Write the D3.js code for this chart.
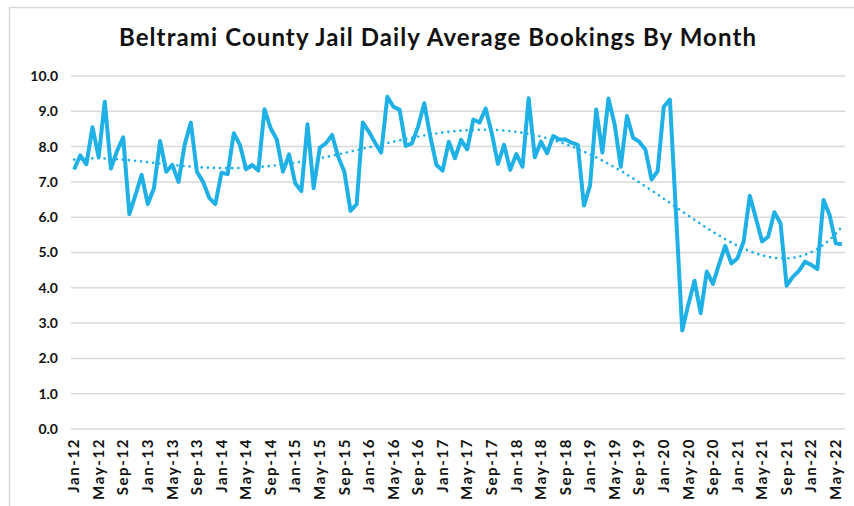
<!DOCTYPE html>
<html>
<head>
<meta charset="utf-8">
<script src="https://cdn.jsdelivr.net/npm/d3@7"></script>
<style>
  body { margin: 0; background: #fff; }
  text { font-family: Lato, "Open Sans", sans-serif; }
</style>
</head>
<body>
<div id="chart"></div>
<script>
// monthly daily-average bookings, Jan 2012 - Jun 2022
let startMonth = new Date(2012, 0, 1);
let bookings = [
    7.35, 7.75, 7.5, 8.55, 7.7, 9.27, 7.38, 7.88, 8.26, 6.09, 6.63, 7.2,
    6.37, 6.82, 8.16, 7.29, 7.48, 7.0, 8.05, 8.68, 7.29, 7.0, 6.55, 6.37,
    7.26, 7.22, 8.38, 8.05, 7.36, 7.48, 7.32, 9.06, 8.52, 8.2, 7.29, 7.78,
    6.96, 6.74, 8.63, 6.82, 7.97, 8.09, 8.33, 7.71, 7.29, 6.18, 6.37, 8.68,
    8.42, 8.11, 7.83, 9.41, 9.13, 9.04, 8.02, 8.09, 8.56, 9.23, 8.28, 7.48,
    7.32, 8.14, 7.67, 8.19, 7.92, 8.77, 8.68, 9.08, 8.38, 7.51, 8.05, 7.34,
    7.79, 7.43, 9.37, 7.7, 8.14, 7.81, 8.3, 8.2, 8.2, 8.11, 8.05, 6.33,
    6.9, 9.05, 7.83, 9.36, 8.63, 7.43, 8.87, 8.25, 8.14, 7.92, 7.07, 7.3,
    9.13, 9.33, 6.06, 2.79, 3.53, 4.2, 3.28, 4.46, 4.11, 4.67, 5.19, 4.69,
    4.84, 5.31, 6.61, 5.97, 5.31, 5.45, 6.14, 5.83, 4.06, 4.31, 4.48, 4.74,
    4.65, 4.53, 6.49, 6.06, 5.26, 5.23
];
let yTicks = [0, 1, 2, 3, 4, 5, 6, 7, 8, 9, 10];
let labelEvery = 4;
let trendOrder = 5;

let months = bookings.map((v, i) => d3.timeMonth.offset(startMonth, i));
let fmtMonth = d3.timeFormat("%b-%y");

let width = 854, height = 506;
let margin = {top: 76, right: 9, bottom: 77, left: 71};

let svg = d3.select("#chart")
    .append("svg")
    .attr("width", width)
    .attr("height", height);

svg.append("rect")
    .attr("x", 9.5).attr("y", 7.5)
    .attr("width", 860).attr("height", 520)
    .attr("fill", "#fff")
    .attr("stroke", "#d9d9d9")
    .attr("stroke-width", 1.5);

svg.append("text")
    .attr("x", 438)
    .attr("y", 46)
    .attr("text-anchor", "middle")
    .attr("font-size", 24)
    .attr("letter-spacing", 1.1)
    .attr("font-weight", "bold")
    .attr("fill", "#111")
    .text("Beltrami County Jail Daily Average Bookings By Month");

let x = d3.scaleBand()
    .domain(d3.range(bookings.length))
    .range([margin.left, width - margin.right]);

let y = d3.scaleLinear()
    .domain([0, 10])
    .range([height - margin.bottom, margin.top]);

let px = i => x(i) + x.bandwidth() / 2;

// gridlines
svg.append("g")
    .selectAll("line")
    .data(yTicks)
    .enter().append("line")
    .attr("x1", margin.left)
    .attr("x2", width - margin.right)
    .attr("y1", d => y(d))
    .attr("y2", d => y(d))
    .attr("stroke", "#d9d9d9")
    .attr("stroke-width", 1.5);

// y axis
let yAxis = d3.axisLeft(y)
    .tickValues(yTicks)
    .tickFormat(d3.format(".1f"))
    .tickSize(0)
    .tickPadding(13);

let yAxisGroup = svg.append("g")
    .attr("transform", "translate(" + margin.left + ",0)")
    .call(yAxis);
yAxisGroup.select(".domain").remove();
yAxisGroup.selectAll("text")
    .attr("font-size", 14)
    .attr("font-weight", "bold")
    .attr("fill", "#111")
    .attr("font-family", "Lato, sans-serif");

// x axis, a label every 4 months
let xAxis = d3.axisBottom(x)
    .tickValues(d3.range(0, bookings.length, labelEvery))
    .tickFormat(i => fmtMonth(months[i]))
    .tickSize(0);

let xAxisGroup = svg.append("g")
    .attr("transform", "translate(0," + (height - margin.bottom) + ")")
    .call(xAxis);
xAxisGroup.select(".domain").remove();
xAxisGroup.selectAll("text")
    .attr("font-size", 15)
    .attr("letter-spacing", 1.6)
    .attr("font-weight", "bold")
    .attr("fill", "#111")
    .attr("font-family", "Lato, sans-serif")
    .attr("text-anchor", "end")
    .attr("dy", "0.35em")
    .attr("transform", "translate(0,9) rotate(-90)")
    .attr("x", 0)
    .attr("y", 0);

// polynomial trendline (least squares fit of the series)
function polyFit(vals, order) {
    let n = vals.length;
    let xs = vals.map((v, i) => (2 * i / (n - 1)) - 1);
    let m = order + 1;
    let A = [];
    for (let r = 0; r < m; r++) {
        A.push([]);
        for (let c = 0; c < m; c++) A[r].push(d3.sum(xs, t => Math.pow(t, r + c)));
        A[r].push(d3.sum(xs, (t, i) => Math.pow(t, r) * vals[i]));
    }
    for (let c = 0; c < m; c++) {
        let p = c;
        for (let r = c + 1; r < m; r++) if (Math.abs(A[r][c]) > Math.abs(A[p][c])) p = r;
        [A[c], A[p]] = [A[p], A[c]];
        for (let r = 0; r < m; r++) {
            if (r === c) continue;
            let f = A[r][c] / A[c][c];
            for (let k = c; k <= m; k++) A[r][k] -= f * A[c][k];
        }
    }
    let coef = A.map((row, r) => row[m] / row[r]);
    return xs.map(t => d3.sum(coef, (a, k) => a * Math.pow(t, k)));
}

let trend = polyFit(bookings, trendOrder);

let line = d3.line()
    .x((d, i) => px(i))
    .y(d => y(d));

svg.append("path")
    .datum(trend)
    .attr("fill", "none")
    .attr("stroke", "#1fb0e6")
    .attr("stroke-width", 2.6)
    .attr("stroke-linecap", "round")
    .attr("stroke-dasharray", "0.1 6")
    .attr("d", line.curve(d3.curveMonotoneX)(trend));

svg.append("path")
    .datum(bookings)
    .attr("fill", "none")
    .attr("stroke", "#1fb0e6")
    .attr("stroke-width", 4)
    .attr("stroke-linejoin", "round")
    .attr("d", d3.line().x((d, i) => px(i)).y(d => y(d)));
</script>
</body>
</html>
